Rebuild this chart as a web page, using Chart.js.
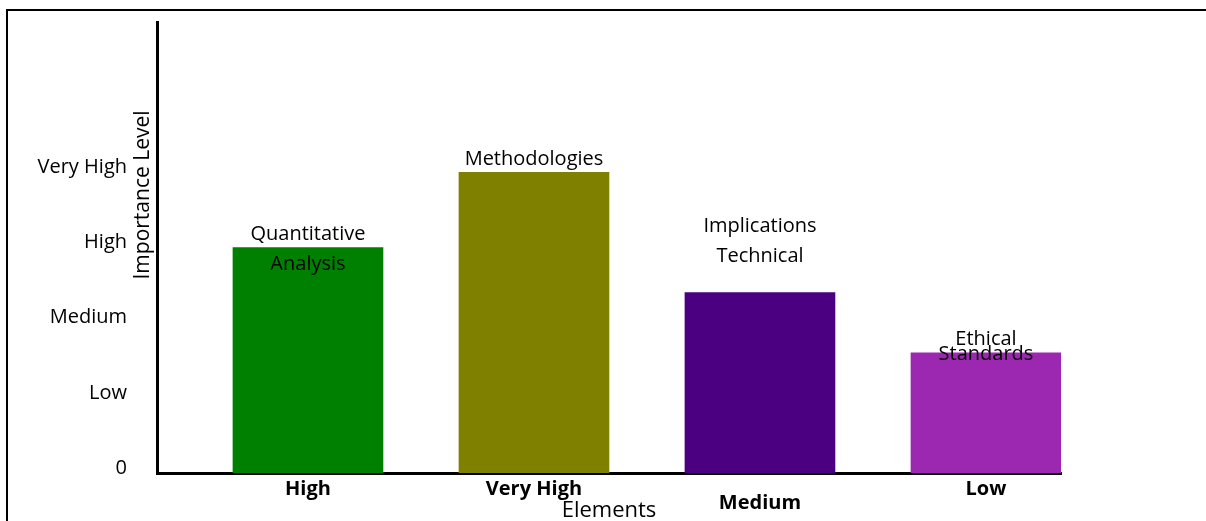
<!DOCTYPE html>
<html>
<head>
<meta charset="utf-8">
<script src="https://cdn.jsdelivr.net/npm/chart.js@4.4.1/dist/chart.umd.min.js"></script>
<style>
    html, body { margin: 0; padding: 0; background: #fff; overflow: hidden; }
    #moldura { position: absolute; left: 6px; top: 9px; width: 1400px; height: 800px; border: 2px solid #000; }
    #caixa { position: absolute; left: 0; top: 0; width: 1206px; height: 521px; }
</style>
</head>
<body>
<div id="moldura"></div>
<div id="caixa"><canvas id="grafico"></canvas></div>
<script>
// Dados do gráfico
const categorias = ['High', 'Very High', 'Medium', 'Low'];
const elementos = [['Quantitative', 'Analysis'], ['Methodologies'], ['Implications', 'Technical'], ['Ethical', 'Standards']];
const valores = [3, 4, 2.4, 1.6];
const niveis = ['0', 'Low', 'Medium', 'High', 'Very High'];
const cores = ['#008000', '#808000', '#4b0082', '#9c27b0'];

// Deslocamento vertical de cada linha do rótulo em relação ao topo da barra
const deslocamentos = [[-13, 17], [-13], [-66, -36], [-13, 2]];

const fonte = "'Open Sans', 'Noto Sans', sans-serif";

const rotulosPlugin = {
    id: 'rotulos',
    afterDatasetsDraw(chart) {
        const ctx = chart.ctx;
        const area = chart.chartArea;
        ctx.save();
        ctx.fillStyle = '#000';
        ctx.textAlign = 'center';
        ctx.textBaseline = 'middle';
        ctx.font = '20px ' + fonte;

        // rótulos das barras
        chart.getDatasetMeta(0).data.forEach((barra, i) => {
            elementos[i].forEach((linha, j) => {
                ctx.fillText(linha, barra.x, barra.y + deslocamentos[i][j]);
            });
        });

        // título do eixo x
        ctx.font = '22px ' + fonte;
        ctx.fillText('Elements', (area.left + area.right) / 2, area.bottom + 38);

        // título do eixo y
        ctx.font = '21px ' + fonte;
        ctx.translate(area.left - 14, area.top + 173);
        ctx.rotate(-Math.PI / 2);
        ctx.fillText('Importance Level', 0, 0);
        ctx.restore();
    }
};

new Chart(document.getElementById('grafico'), {
    type: 'bar',
    data: {
        datasets: [{
            data: valores.map((v, i) => ({ x: i, y: v })),
            backgroundColor: cores,
            borderWidth: 0,
            barThickness: 150
        }]
    },
    options: {
        responsive: true,
        maintainAspectRatio: false,
        animation: false,
        layout: { padding: { left: 0, top: 22, right: 145, bottom: 0 } },
        plugins: {
            legend: { display: false },
            tooltip: { enabled: false }
        },
        scales: {
            x: {
                type: 'linear',
                offset: false,
                min: -0.668,
                max: 3.332,
                grid: { display: false, drawTicks: false },
                border: { color: '#000', width: 3 },
                afterBuildTicks: s => { s.ticks = categorias.map((_, i) => ({ value: i })); },
                afterFit: s => { s.height = 48; s.paddingLeft = 0; s.paddingRight = 0; },
                ticks: {
                    padding: 9,
                    color: '#000',
                    font: { family: fonte, size: 20, weight: 'bold', lineHeight: '14px' },
                    callback: v => (v === 2 ? ['', categorias[v]] : categorias[v])
                }
            },
            y: {
                min: 0,
                max: 6,
                grid: { display: false, drawTicks: false },
                border: { color: '#000', width: 3 },
                afterBuildTicks: s => { s.ticks = niveis.map((_, i) => ({ value: i })); },
                afterFit: s => { s.width = 157; s.paddingTop = 0; s.paddingBottom = 0; },
                ticks: {
                    padding: 30,
                    color: '#000',
                    font: { family: fonte, size: 20, lineHeight: '10px' },
                    callback: v => [niveis[v], '']
                }
            }
        }
    },
    plugins: [rotulosPlugin]
});
</script>
</body>
</html>
